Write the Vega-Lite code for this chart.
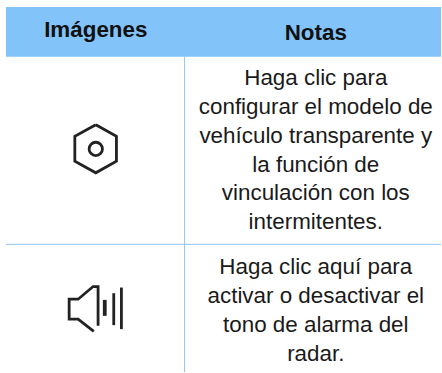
{"$schema":"https://vega.github.io/schema/vega-lite/v6.json","width":442,"height":373,"padding":0,"autosize":{"type":"fit","contains":"padding"},"background":"white","view":{"stroke":null},
"datasets":{
"encabezado":[{"x":6,"x2":442,"y":7,"y2":57}],
"verticales":[{"x":185,"y":57,"y2":373}],
"horizontales":[{"x":6,"x2":442,"y":245}],
"titulos":[{"t":"Imágenes","x":96,"y":37.5},{"t":"Notas","x":316.5,"y":40}],
"notas":[
{"t":"Haga clic para","x":316.5,"y":85},
{"t":"configurar el modelo de","x":316.5,"y":114},
{"t":"vehículo transparente y","x":316.5,"y":143},
{"t":"la función de","x":316.5,"y":172},
{"t":"vinculación con los","x":316.5,"y":201},
{"t":"intermitentes.","x":316.5,"y":230},
{"t":"Haga clic aquí para","x":316.5,"y":275},
{"t":"activar o desactivar el","x":316.5,"y":304},
{"t":"tono de alarma del","x":316.5,"y":333},
{"t":"radar.","x":316.5,"y":362}],
"iconos":[
{"g":"hex","o":0,"x":96,"y":125},{"g":"hex","o":1,"x":116.7,"y":136.7},{"g":"hex","o":2,"x":116.7,"y":161.7},{"g":"hex","o":3,"x":96,"y":173.3},{"g":"hex","o":4,"x":75,"y":161.7},{"g":"hex","o":5,"x":75,"y":136.7},{"g":"hex","o":6,"x":96,"y":125},
{"g":"alt","o":0,"x":94,"y":332.3},{"g":"alt","o":1,"x":78.3,"y":320},{"g":"alt","o":2,"x":69.3,"y":320},{"g":"alt","o":3,"x":69.3,"y":300},{"g":"alt","o":4,"x":78.3,"y":300},{"g":"alt","o":5,"x":93.3,"y":287.3},{"g":"alt","o":6,"x":98.3,"y":287.3},{"g":"alt","o":7,"x":98.3,"y":326.7},
{"g":"b2","o":0,"x":114,"y":294},{"g":"b2","o":1,"x":114,"y":326},
{"g":"b3","o":0,"x":121.7,"y":288.3},{"g":"b3","o":1,"x":121.7,"y":330}],
"barra":[{"g":"b1","o":0,"x":105,"y":300.7},{"g":"b1","o":1,"x":105,"y":316.7}],
"circulo":[{"x":96,"y":149.3}]
},
"layer":[
{"data":{"name":"encabezado"},"mark":{"type":"rect","color":"#82C4F9"},"encoding":{"x":{"field":"x","type":"quantitative","scale":{"domain":[0,442],"nice":false,"zero":false},"axis":null},"x2":{"field":"x2"},"y":{"field":"y","type":"quantitative","scale":{"domain":[373,0],"nice":false,"zero":false},"axis":null},"y2":{"field":"y2"}}},
{"data":{"name":"verticales"},"mark":{"type":"rule","color":"#8FC4F0","strokeWidth":1},"encoding":{"x":{"field":"x","type":"quantitative"},"y":{"field":"y","type":"quantitative"},"y2":{"field":"y2"}}},
{"data":{"name":"horizontales"},"mark":{"type":"rule","color":"#8FC4F0","strokeWidth":1},"encoding":{"x":{"field":"x","type":"quantitative"},"x2":{"field":"x2"},"y":{"field":"y","type":"quantitative"}}},
{"data":{"name":"titulos"},"mark":{"type":"text","font":"Liberation Sans","fontSize":22.4,"fontWeight":"bold","color":"#111111","align":"center","baseline":"alphabetic"},"encoding":{"x":{"field":"x","type":"quantitative"},"y":{"field":"y","type":"quantitative"},"text":{"field":"t"}}},
{"data":{"name":"notas"},"mark":{"type":"text","font":"Liberation Sans","fontSize":22.4,"color":"#1a1a1a","align":"center","baseline":"alphabetic"},"encoding":{"x":{"field":"x","type":"quantitative"},"y":{"field":"y","type":"quantitative"},"text":{"field":"t"}}},
{"data":{"name":"iconos"},"mark":{"type":"line","color":"#222222","strokeWidth":2.8,"strokeJoin":"miter"},"encoding":{"x":{"field":"x","type":"quantitative"},"y":{"field":"y","type":"quantitative"},"detail":{"field":"g"},"order":{"field":"o","type":"quantitative"}}},
{"data":{"name":"barra"},"mark":{"type":"line","color":"#222222","strokeWidth":3.8},"encoding":{"x":{"field":"x","type":"quantitative"},"y":{"field":"y","type":"quantitative"},"detail":{"field":"g"},"order":{"field":"o","type":"quantitative"}}},
{"data":{"name":"circulo"},"mark":{"type":"point","shape":"circle","filled":false,"color":"#222222","strokeWidth":2.8,"size":177,"opacity":1},"encoding":{"x":{"field":"x","type":"quantitative"},"y":{"field":"y","type":"quantitative"}}}
]}
